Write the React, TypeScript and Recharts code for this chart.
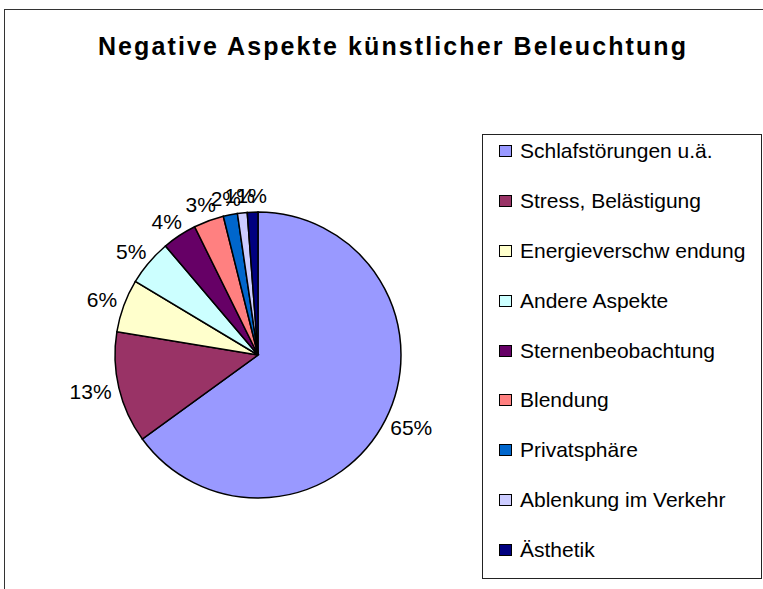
import { PieChart, Pie, Cell, Legend } from 'recharts'

const CATEGORIES = [
  'Schlafstörungen u.ä.',
  'Stress, Belästigung',
  'Energieverschw endung',
  'Andere Aspekte',
  'Sternenbeobachtung',
  'Blendung',
  'Privatsphäre',
  'Ablenkung im Verkehr',
  'Ästhetik',
]

const SHARES = [65.0, 12.6, 6.0, 5.2, 3.9, 3.4, 1.6, 1.1, 1.2]

const SLICE_COLORS = [
  '#9999ff',
  '#993366',
  '#ffffcc',
  '#ccffff',
  '#660066',
  '#ff8080',
  '#0066cc',
  '#ccccff',
  '#000080',
]

const FONT = '"Liberation Sans", Arial, sans-serif'
const RAD = Math.PI / 180

const pieData = CATEGORIES.map((name, i) => ({ name, value: SHARES[i] }))

function renderLabel(props: any) {
  const { cx, cy, midAngle, outerRadius, percent } = props
  const cos = Math.cos(-midAngle * RAD)
  const sin = Math.sin(-midAngle * RAD)
  const text = `${Math.round(percent * 100)}%`
  const w = ((text.length - 1) * 0.556 + 0.889) * 21
  const r = outerRadius + 8
  const x = cx + r * cos + (w / 2) * cos
  const y = cy + r * sin + 9 * sin
  return (
    <text
      x={x}
      y={y}
      textAnchor="middle"
      dominantBaseline="central"
      fill="#000"
      style={{ fontFamily: FONT, fontSize: 21 }}
    >
      {text}
    </text>
  )
}

function renderLegend(props: any) {
  // keep the data order, not the alphabetical one
  const items = [...props.payload].sort(
    (a: any, b: any) => CATEGORIES.indexOf(a.value) - CATEGORIES.indexOf(b.value),
  )
  return (
    <div
      style={{
        width: 280,
        height: 445,
        boxSizing: 'border-box',
        border: '1px solid #222',
        background: '#fff',
        fontFamily: FONT,
        fontSize: 21,
        color: '#000',
      }}
    >
      {items.map((entry: any, i: number) => (
        <div
          key={`leg-${i}`}
          style={{
            height: 49.9,
            boxSizing: 'border-box',
            paddingTop: 4,
            paddingLeft: 16,
          }}
        >
          <div style={{ display: 'flex', alignItems: 'center', height: 24, lineHeight: '24px' }}>
            <span
              style={{
                display: 'inline-block',
                width: 11,
                height: 10,
                border: '1px solid #000',
                background: entry.color,
                marginRight: 8,
                flex: 'none',
              }}
            />
            <span style={{ whiteSpace: 'nowrap' }}>{entry.value}</span>
          </div>
        </div>
      ))}
    </div>
  )
}

export default function App() {
  return (
    <div
      style={{
        position: 'fixed',
        left: 4,
        top: 9,
        width: 759,
        height: 590,
        boxSizing: 'border-box',
        borderTop: '1px solid #333',
        borderLeft: '1px solid #333',
        background: '#fff',
      }}
    >
      <div
        style={{
          position: 'absolute',
          left: 0,
          top: 22,
          width: 776,
          textAlign: 'center',
          fontFamily: FONT,
          fontWeight: 'bold',
          fontSize: 25,
          letterSpacing: 2.1,
          lineHeight: '28px',
          color: '#000',
        }}
      >
        Negative Aspekte künstlicher Beleuchtung
      </div>
      <div style={{ position: 'absolute', left: 0, top: 0 }}>
        <PieChart width={758} height={575} margin={{ top: 0, right: 0, bottom: 0, left: 0 }}>
          <Pie
            data={pieData}
            dataKey="value"
            nameKey="name"
            cx={253}
            cy={345}
            outerRadius={143}
            startAngle={90}
            endAngle={-270}
            stroke="#000"
            strokeWidth={1.5}
            labelLine={false}
            label={renderLabel}
            isAnimationActive={false}
          >
            {pieData.map((_, i) => (
              <Cell key={`cell-${i}`} fill={SLICE_COLORS[i]} />
            ))}
          </Pie>
          <Legend
            layout="vertical"
            align="center"
            verticalAlign="middle"
            content={renderLegend}
            wrapperStyle={{ left: 477, top: 124, width: 280, height: 445 }}
          />
        </PieChart>
      </div>
    </div>
  )
}
